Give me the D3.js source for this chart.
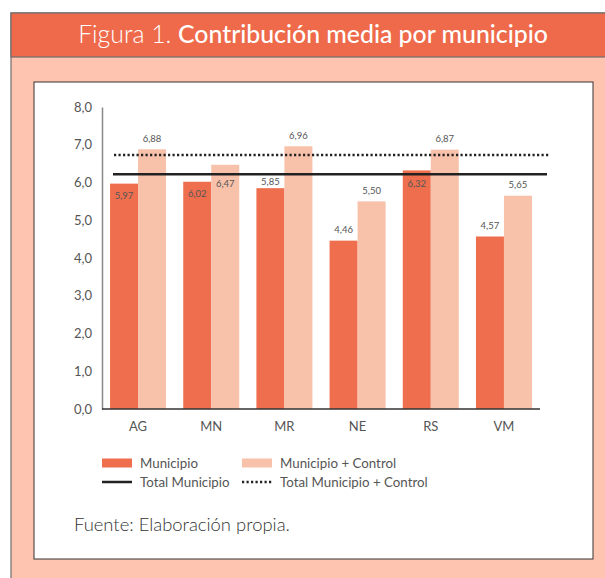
<!DOCTYPE html>
<html>
<head>
<meta charset="utf-8">
<script src="https://cdn.jsdelivr.net/npm/d3@7"></script>
<style>
  html, body { margin: 0; padding: 0; background: #fff; }
  svg { display: block; }
  text { font-family: Lato, "Open Sans", sans-serif; }
</style>
</head>
<body>
<svg id="chart" width="605" height="578"></svg>
<script>
// ---- data ----
const categories = ["AG", "MN", "MR", "NE", "RS", "VM"];
const municipio = [5.97, 6.02, 5.85, 4.46, 6.32, 4.57];
const municipioControl = [6.88, 6.47, 6.96, 5.50, 6.87, 5.65];
const totalMunicipio = 6.22;
const totalMunicipioControl = 6.73;
const yTicks = [0, 1, 2, 3, 4, 5, 6, 7, 8];
const seriesNames = ["Municipio", "Municipio + Control"];
const lineNames = ["Total Municipio", "Total Municipio + Control"];
const titleLight = "Figura 1. ";
const titleBold = "Contribución media por municipio";
const sourceText = "Fuente: Elaboración propia.";

// ---- style ----
const cMun = "#EF6E4E";
const cCtl = "#F8C1AA";
const cHeader = "#EE6A4A";
const cPink = "#FFC4B0";
const cText = "#555555";
const fmt = v => d3.format(".2f")(v).replace(".", ",");
const fmtTick = v => d3.format(".1f")(v).replace(".", ",");

const svg = d3.select("#chart");

function fitWidth(sel, baseSize, target) {
  const w = sel.node().getComputedTextLength();
  sel.attr("font-size", baseSize * target / w);
}

// frame
svg.append("rect").attr("x", 11).attr("y", 13).attr("width", 620).attr("height", 600)
  .attr("fill", cPink).attr("stroke", "#6e6e6e").attr("stroke-width", 1.2);
svg.append("rect").attr("x", 11).attr("y", 13).attr("width", 620).attr("height", 44)
  .attr("fill", cHeader).attr("stroke", "#6e6e6e").attr("stroke-width", 1.2);

// title
const title = svg.append("text").attr("x", 313).attr("y", 43)
  .attr("text-anchor", "middle").attr("fill", "#fff").attr("font-size", 22);
title.append("tspan").attr("font-weight", 300).text(titleLight);
title.append("tspan").attr("font-weight", 500).text(titleBold);
fitWidth(title, 22, 470);

// white panel
svg.append("rect").attr("x", 34).attr("y", 82).attr("width", 559).attr("height", 477)
  .attr("fill", "#fff").attr("stroke", "#333").attr("stroke-width", 1);

// scales
const x = d3.scaleBand().domain(categories).range([102, 540])
  .paddingInner(0.235).paddingOuter(0.11);
const xs = d3.scaleBand().domain(seriesNames).range([0, x.bandwidth()]);
const y = d3.scaleLinear().domain([0, 8]).range([409, 107]);

// bars
const rows = categories.map((c, i) => ({ c, vals: [municipio[i], municipioControl[i]] }));
const g = svg.append("g");
rows.forEach(r => {
  r.vals.forEach((v, j) => {
    g.append("rect")
      .attr("x", x(r.c) + xs(seriesNames[j]))
      .attr("y", y(v))
      .attr("width", xs.bandwidth())
      .attr("height", y(0) - y(v))
      .attr("fill", j === 0 ? cMun : cCtl);
  });
});

// reference lines
const yS = y(totalMunicipio), yD = y(totalMunicipioControl);
const lx0 = x.range()[0] + 11, lx1 = x.range()[1] + 7;
svg.append("line").attr("x1", lx0).attr("x2", lx1).attr("y1", yS).attr("y2", yS)
  .attr("stroke", "#222").attr("stroke-width", 2.5);
svg.append("line").attr("x1", lx0 + 1).attr("x2", lx1 + 2).attr("y1", yD).attr("y2", yD)
  .attr("stroke", "#222").attr("stroke-width", 2.5).attr("stroke-dasharray", "2.2,2.3");

// value labels
rows.forEach(r => {
  r.vals.forEach((v, j) => {
    const top = y(v);
    let ly;
    const between = top > yD && top < yS;
    if (between || Math.abs(top - yS) < 12) {
      ly = Math.max(top + 12, yS + 10);
    } else {
      ly = top - 11;
      if (Math.abs(ly - yS) < 8) ly = yS + 8;
    }
    svg.append("text")
      .attr("x", x(r.c) + xs(seriesNames[j]) + xs.bandwidth() / 2)
      .attr("y", ly + 3.3)
      .attr("text-anchor", "middle")
      .attr("font-size", 9.5)
      .attr("fill", cText)
      .text(fmt(v));
  });
});

// y axis
const yAxis = d3.axisLeft(y).tickValues(yTicks).tickFormat(fmtTick).tickSize(0).tickPadding(10);
const ya = svg.append("g").attr("transform", "translate(102,0)").call(yAxis);
ya.select(".domain").attr("stroke", "#888").attr("stroke-width", 1.5);
ya.selectAll("text").attr("font-size", 13).attr("fill", cText)
  .style("font-family", "Lato, 'Open Sans', sans-serif");

// x axis
const xAxis = d3.axisBottom(x).tickSize(0).tickPadding(13);
const xa = svg.append("g").attr("transform", "translate(0,409)").call(xAxis);
xa.select(".domain").attr("stroke", "#333").attr("stroke-width", 1.5)
  .attr("d", `M${x.range()[0]},0H${x.range()[1]}`);
xa.selectAll("text").attr("font-size", 13).attr("fill", cText)
  .style("font-family", "Lato, 'Open Sans', sans-serif");

// legend
const leg = svg.append("g");
const legItems = [
  { name: seriesNames[0], type: "rect", color: cMun, lx: 102, ly: 463 },
  { name: seriesNames[1], type: "rect", color: cCtl, lx: 242, ly: 463 },
  { name: lineNames[0], type: "line", dash: null, lx: 102, ly: 482 },
  { name: lineNames[1], type: "line", dash: "2.2,2.3", lx: 242, ly: 482 }
];
legItems.forEach(it => {
  if (it.type === "rect") {
    leg.append("rect").attr("x", it.lx).attr("y", it.ly - 4.5).attr("width", 30).attr("height", 9)
      .attr("fill", it.color);
  } else {
    leg.append("line").attr("x1", it.lx).attr("x2", it.lx + 30).attr("y1", it.ly).attr("y2", it.ly)
      .attr("stroke", "#222").attr("stroke-width", 2.5).attr("stroke-dasharray", it.dash);
  }
  leg.append("text").attr("x", it.lx + 38).attr("y", it.ly + 4.8)
    .attr("font-size", 13.3).attr("fill", cText).text(it.name);
});

// source
const src = svg.append("text").attr("x", 74).attr("y", 531).attr("font-size", 15)
  .attr("fill", "#333").attr("font-weight", 300).text(sourceText);
fitWidth(src, 15, 216);
</script>
</body>
</html>
